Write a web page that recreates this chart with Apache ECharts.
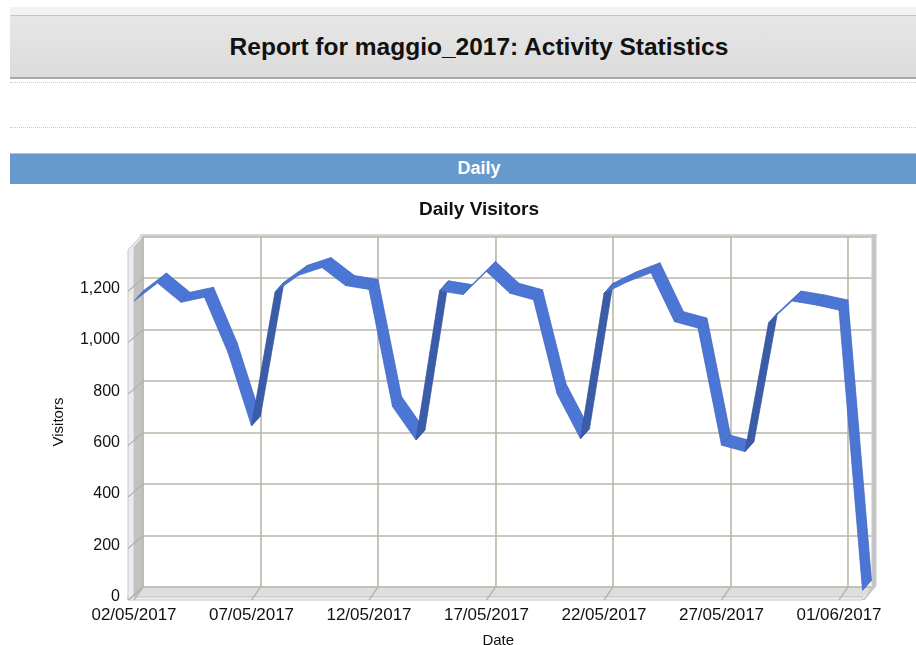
<!DOCTYPE html>
<html>
<head>
<meta charset="utf-8">
<script src="https://cdn.jsdelivr.net/npm/echarts@6/dist/echarts.min.js"></script>
<style>
  html, body { margin: 0; padding: 0; background: #ffffff; width: 916px; height: 645px; overflow: hidden; font-family: "Liberation Sans", Arial, sans-serif; }
  #topstrip { position: absolute; left: 10px; top: 7px; width: 906px; height: 8px; background: #f2f2f2; }
  #header { position: absolute; left: 10px; top: 15px; width: 906px; height: 61px; background: linear-gradient(#e6e6e6, #dcdcdc); border-top: 1px solid #c4c4c4; border-bottom: 2px solid #a9a9a9; }
  #header span { position: absolute; left: 0; width: 938px; top: 0; line-height: 62px; text-align: center; font-weight: bold; font-size: 24.5px; color: #111; }
  .dots { position: absolute; left: 10px; width: 906px; height: 0; border-top: 1px dotted #c8c8c8; }
  #daily { position: absolute; left: 10px; top: 153px; width: 906px; height: 30px; background: #6699cc; border-top: 1px solid #a8c4e2; }
  #daily span { position: absolute; left: 0; width: 938px; top: 0; line-height: 29px; text-align: center; font-weight: bold; font-size: 18px; color: #ffffff; }
  #chart { position: absolute; left: 0; top: 0; width: 916px; height: 645px; }
</style>
</head>
<body>
<div id="topstrip"></div>
<div id="header"><span>Report for maggio_2017: Activity Statistics</span></div>
<div class="dots" style="top:82px"></div>
<div class="dots" style="top:127px"></div>
<div id="daily"><span>Daily</span></div>
<div id="chart"></div>
<script>
// ---- data ----
const dates = ['02/05/2017','03/05/2017','04/05/2017','05/05/2017','06/05/2017','07/05/2017','08/05/2017','09/05/2017',
  '10/05/2017','11/05/2017','12/05/2017','13/05/2017','14/05/2017','15/05/2017','16/05/2017','17/05/2017',
  '18/05/2017','19/05/2017','20/05/2017','21/05/2017','22/05/2017','23/05/2017','24/05/2017','25/05/2017',
  '26/05/2017','27/05/2017','28/05/2017','29/05/2017','30/05/2017','31/05/2017','01/06/2017','02/06/2017'];
const visitors = [1150,1220,1145,1165,950,665,1185,1250,1280,1210,1195,740,610,1190,1175,1265,
  1180,1155,790,615,1180,1225,1260,1070,1045,590,565,1065,1150,1135,1115,25];
const yTicks = [0, 200, 400, 600, 800, 1000, 1200];
const chartTitle = 'Daily Visitors';
const xName = 'Date';
const yName = 'Visitors';

// ---- layout ----
const L = 134, T = 247, W = 728.5, H = 350;   // front plane
const DX = 9, DY = -10;                        // depth offset
const YMAX = 1360;
const GRID = '#bab6a7';
const LIGHT = '#4b76d6', DARK = '#3b5ca9', EDGE = '#3f63b8';

const segments = visitors.slice(0, -1).map((v, i) => [i, v, visitors[i + 1]]);

const chart = echarts.init(document.getElementById('chart'), null, { renderer: 'canvas' });

const fmt = v => Number(v).toLocaleString('en-US');
const font = '"Liberation Sans", Arial, sans-serif';

// decorations (walls / floor) computed from layout constants
const labelIdx = dates.map((d, i) => i).filter(i => i % 5 === 0);
const step = W / (dates.length - 1);
const deco = [];
// floor
deco.push({ type: 'polygon', z: 0, shape: { points: [[L, T + H], [L + W, T + H], [L + W + DX, T + H + DY], [L + DX, T + H + DY]] }, style: { fill: '#dedede', stroke: '#cfcfcf', lineWidth: 1 } });
deco.push({ type: 'rect', z: 0, shape: { x: L - 6, y: T + H, width: W + 6, height: 3 }, style: { fill: '#f2f2f2', stroke: '#c6c6c6', lineWidth: 1 } });
// left wall side face
deco.push({ type: 'polygon', z: 0, shape: { points: [[L, T + H], [L, T], [L + DX, T + DY], [L + DX, T + H + DY]] }, style: { fill: '#c2c2c2', stroke: '#b8b8b8', lineWidth: 1 } });
// left wall front edge
deco.push({ type: 'polygon', z: 0, shape: { points: [[L - 6, T + H + 3], [L - 6, T + 3], [L + DX - 3, T + DY], [L + DX, T + DY], [L, T], [L, T + H]] }, style: { fill: '#ececec', stroke: '#c8c8c8', lineWidth: 1 } });
// back wall top band
deco.push({ type: 'rect', z: 0, shape: { x: L + DX - 3, y: T + DY - 3, width: W + 8, height: 3 }, style: { fill: '#d6d6d6' } });
// right wall
deco.push({ type: 'polygon', z: 0, shape: { points: [[L + W + DX, T + DY - 3], [L + W + DX + 5, T + DY - 3], [L + W + DX + 5, T + H + DY - 1], [L + W + 2, T + H + 3], [L + W, T + H + 3], [L + W + DX, T + H + DY]] }, style: { fill: '#c6c6c6' } });
// floor diagonals
labelIdx.forEach(i => {
  const x = L + i * step;
  deco.push({ type: 'line', z: 1, shape: { x1: x, y1: T + H + 3, x2: x + DX, y2: T + H + DY }, style: { stroke: GRID, lineWidth: 1.4 } });
});
// left wall diagonals
yTicks.forEach(v => {
  const y = T + H - v / YMAX * H;
  deco.push({ type: 'line', z: 1, shape: { x1: L - 6, y1: y + 3, x2: L + DX, y2: y + DY }, style: { stroke: '#b0b0b0', lineWidth: 1.2 } });
});
deco.push({ type: 'text', z: 5, x: 479, y: 210, style: { text: chartTitle, font: 'bold 19px ' + font, fill: '#111', align: 'center', verticalAlign: 'middle' } });

chart.setOption({
  animation: false,
  backgroundColor: 'transparent',
  graphic: { elements: deco },
  grid: [
    { left: L, top: T, width: W, height: H, containLabel: false, outerBoundsMode: 'none' },
    { left: L + DX, top: T + DY, width: W, height: H, containLabel: false, outerBoundsMode: 'none' }
  ],
  xAxis: [
    {
      type: 'category', gridIndex: 0, data: dates, boundaryGap: false,
      axisLine: { show: false }, axisTick: { show: false }, splitLine: { show: false },
      axisLabel: { interval: 4, margin: 10, fontSize: 17, color: '#111', fontFamily: font },
      name: xName, nameLocation: 'middle', nameGap: 36,
      nameTextStyle: { fontSize: 15, color: '#111', fontFamily: font }
    },
    {
      type: 'category', gridIndex: 1, data: dates, boundaryGap: false,
      axisLine: { show: false }, axisTick: { show: false }, axisLabel: { show: false },
      splitLine: { show: true, interval: 4, lineStyle: { color: GRID, width: 1.6 } }
    }
  ],
  yAxis: [
    {
      type: 'value', gridIndex: 0, min: 0, max: YMAX, interval: 200,
      axisLine: { show: false }, axisTick: { show: false }, splitLine: { show: false },
      axisLabel: { margin: 14, fontSize: 16, color: '#111', fontFamily: font, showMaxLabel: false,
        formatter: v => (yTicks.indexOf(v) >= 0 ? fmt(v) : '') },
      name: yName, nameLocation: 'middle', nameGap: 68, nameRotate: 90,
      nameTextStyle: { fontSize: 15, color: '#111', fontFamily: font }
    },
    {
      type: 'value', gridIndex: 1, min: 0, max: YMAX, interval: 200,
      axisLine: { show: false }, axisTick: { show: false }, axisLabel: { show: false },
      splitLine: { show: true, lineStyle: { color: GRID, width: 1.6 } }
    }
  ],
  series: [{
    type: 'custom',
    xAxisIndex: 0, yAxisIndex: 0,
    z: 10,
    clip: false,
    data: segments,
    renderItem: function (params, api) {
      const i = api.value(0);
      const p0 = api.coord([i, api.value(1)]);
      const p1 = api.coord([i + 1, api.value(2)]);
      const pts = [p0, p1, [p1[0] + DX, p1[1] + DY], [p0[0] + DX, p0[1] + DY]];
      const cross = (p1[0] - p0[0]) * DY - (p1[1] - p0[1]) * DX;
      const fill = cross > 0 ? DARK : LIGHT;
      return { type: 'polygon', shape: { points: pts }, style: { fill: fill, stroke: cross > 0 ? '#35539a' : EDGE, lineWidth: 0.7 } };
    }
  }]
});
</script>
</body>
</html>
